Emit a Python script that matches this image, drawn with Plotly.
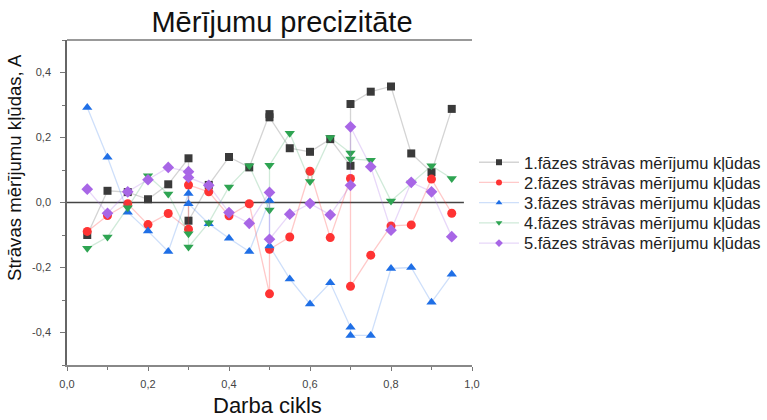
import plotly.graph_objects as go

# duty cycle values (duplicates at 0.3, 0.5, 0.7 are repeated measurements)
duty = [0.05, 0.1, 0.15, 0.2, 0.25, 0.3, 0.3, 0.35, 0.4, 0.45, 0.5, 0.5,
        0.55, 0.6, 0.65, 0.7, 0.7, 0.75, 0.8, 0.85, 0.9, 0.95]

phase1 = [-0.100, 0.036, 0.032, 0.010, 0.056, 0.136, -0.056, 0.054, 0.140, 0.108, 0.272, 0.262,
          0.167, 0.156, 0.195, 0.113, 0.303, 0.341, 0.357, 0.151, 0.093, 0.288]
phase2 = [-0.089, -0.040, -0.004, -0.068, -0.034, -0.082, 0.054, 0.033, -0.041, -0.004, -0.281, -0.144,
          -0.106, 0.096, -0.108, 0.074, -0.258, -0.162, -0.072, -0.069, 0.072, -0.033]
phase3 = [0.292, 0.139, -0.030, -0.088, -0.151, 0.028, -0.004, -0.065, -0.110, -0.151, 0.006, -0.134,
          -0.235, -0.312, -0.247, -0.384, -0.409, -0.409, -0.203, -0.200, -0.307, -0.221]
phase4 = [-0.141, -0.106, -0.016, 0.082, 0.026, -0.096, -0.137, -0.062, 0.048, 0.113, -0.023, 0.115,
          0.213, 0.065, 0.200, 0.152, 0.134, 0.130, 0.005, 0.060, 0.113, 0.074]
phase5 = [0.041, -0.033, 0.033, 0.070, 0.108, 0.095, 0.077, 0.053, -0.031, -0.064, 0.031, -0.113,
          -0.036, -0.003, -0.038, 0.053, 0.233, 0.110, -0.085, 0.062, 0.033, -0.105]

names = ["1.fāzes strāvas mērījumu kļūdas", "2.fāzes strāvas mērījumu kļūdas",
         "3.fāzes strāvas mērījumu kļūdas", "4.fāzes strāvas mērījumu kļūdas",
         "5.fāzes strāvas mērījumu kļūdas"]
x_tick_vals = [0, 0.2, 0.4, 0.6, 0.8, 1.0]
x_tick_text = ["0,0", "0,2", "0,4", "0,6", "0,8", "1,0"]
y_tick_vals = [-0.4, -0.2, 0, 0.2, 0.4]
y_tick_text = ["-0,4", "-0,2", "0,0", "0,2", "0,4"]

series = [phase1, phase2, phase3, phase4, phase5]
marker_colors = ["#3a3a3a", "#ff3333", "#1f6fe6", "#2ea452", "#a866e6"]
line_colors = ["rgba(60,60,60,0.22)", "rgba(255,40,40,0.25)", "rgba(30,110,230,0.22)",
               "rgba(40,160,80,0.22)", "rgba(165,100,230,0.25)"]
symbols = ["square", "circle", "triangle-up", "triangle-down", "diamond"]
sizes = [8, 9, 9, 9, 9]

PLOT_LEFT, PLOT_RIGHT = 67, 472
PLOT_TOP, PLOT_BOTTOM = 40, 365
PW, PH = PLOT_RIGHT - PLOT_LEFT, PLOT_BOTTOM - PLOT_TOP
legend_rows_px = [162.5, 182.7, 202.9, 223.1, 243.3]
legend_ids = ["legend", "legend2", "legend3", "legend4", "legend5"]

fig = go.Figure()
for name, ys, mc, lc, sym, sz in zip(names, series, marker_colors, line_colors, symbols, sizes):
    fig.add_trace(go.Scatter(
        x=duty, y=ys, name=name, mode="lines+markers", showlegend=False,
        line=dict(color=lc, width=1.3),
        marker=dict(color=mc, symbol=sym, size=sz, line=dict(width=0)),
    ))
# legend entries (smaller symbols, as in the reference)
for name, mc, lc, sym, lid in zip(names, marker_colors, line_colors, symbols, legend_ids):
    fig.add_trace(go.Scatter(
        x=[None], y=[None], name=name, mode="lines+markers", legend=lid,
        line=dict(color=lc, width=1.3),
        marker=dict(color=mc, symbol=sym, size=6, line=dict(width=0)),
    ))

# zero reference line
fig.add_shape(type="line", xref="x", yref="y", x0=0, x1=0.98, y0=0, y1=0,
              line=dict(color="#444444", width=1.6), layer="below")
# top border line
fig.add_shape(type="line", xref="paper", yref="paper", x0=0, x1=1, y0=1, y1=1,
              line=dict(color="#999999", width=2))

font_family = "Liberation Sans, Arial, sans-serif"
legend_layout = {}
for lid, ypx in zip(legend_ids, legend_rows_px):
    legend_layout[lid] = dict(
        x=(474 - PLOT_LEFT) / PW, y=(PLOT_BOTTOM - ypx) / PH,
        xanchor="left", yanchor="middle",
        font=dict(size=16.5, color="#222222", family=font_family),
        bgcolor="rgba(0,0,0,0)", itemwidth=40)

fig.update_layout(
    width=767, height=420,
    margin=dict(l=PLOT_LEFT, r=767 - PLOT_RIGHT, t=PLOT_TOP, b=420 - PLOT_BOTTOM, autoexpand=False),
    paper_bgcolor="white", plot_bgcolor="white",
    separators=", ",
    font=dict(family=font_family, color="#222222"),
    title=dict(text="Mērījumu precizitāte", x=(282 - PLOT_LEFT) / PW, xref="paper", xanchor="center",
               y=1 - 22 / 420, yref="container", yanchor="middle",
               font=dict(size=29, color="#111111", family=font_family)),
    showlegend=True,
    xaxis=dict(range=[0, 1.0], tickvals=x_tick_vals, ticktext=x_tick_text,
               ticks="outside", ticklen=4, tickcolor="#777777", ticklabelstandoff=4,
               minor=dict(dtick=0.1, ticks="outside", ticklen=3, tickcolor="#777777"),
               showline=True, linecolor="#888888", linewidth=1.5,
               showgrid=False, zeroline=False,
               tickfont=dict(size=11, color="#444444")),
    yaxis=dict(range=[-0.5, 0.5], tickvals=y_tick_vals, ticktext=y_tick_text,
               ticks="outside", ticklen=5, tickcolor="#777777", ticklabelstandoff=7,
               minor=dict(dtick=0.1, ticks="outside", ticklen=3, tickcolor="#777777"),
               showline=True, linecolor="#666666", linewidth=1.5,
               showgrid=False, zeroline=False,
               tickfont=dict(size=11, color="#444444")),
    annotations=[
        dict(text="Darba cikls", xref="paper", yref="paper",
             x=(267 - PLOT_LEFT) / PW, y=(PLOT_BOTTOM - 406) / PH,
             xanchor="center", yanchor="middle", showarrow=False,
             font=dict(size=22, color="#111111", family=font_family)),
        dict(text="Strāvas mērījumu kļūdas, A", xref="paper", yref="paper",
             x=(14 - PLOT_LEFT) / PW, y=(PLOT_BOTTOM - 168) / PH, textangle=-90,
             xanchor="center", yanchor="middle", showarrow=False,
             font=dict(size=18.6, color="#111111", family=font_family)),
    ],
    **legend_layout,
)

fig.write_html("out.html")
